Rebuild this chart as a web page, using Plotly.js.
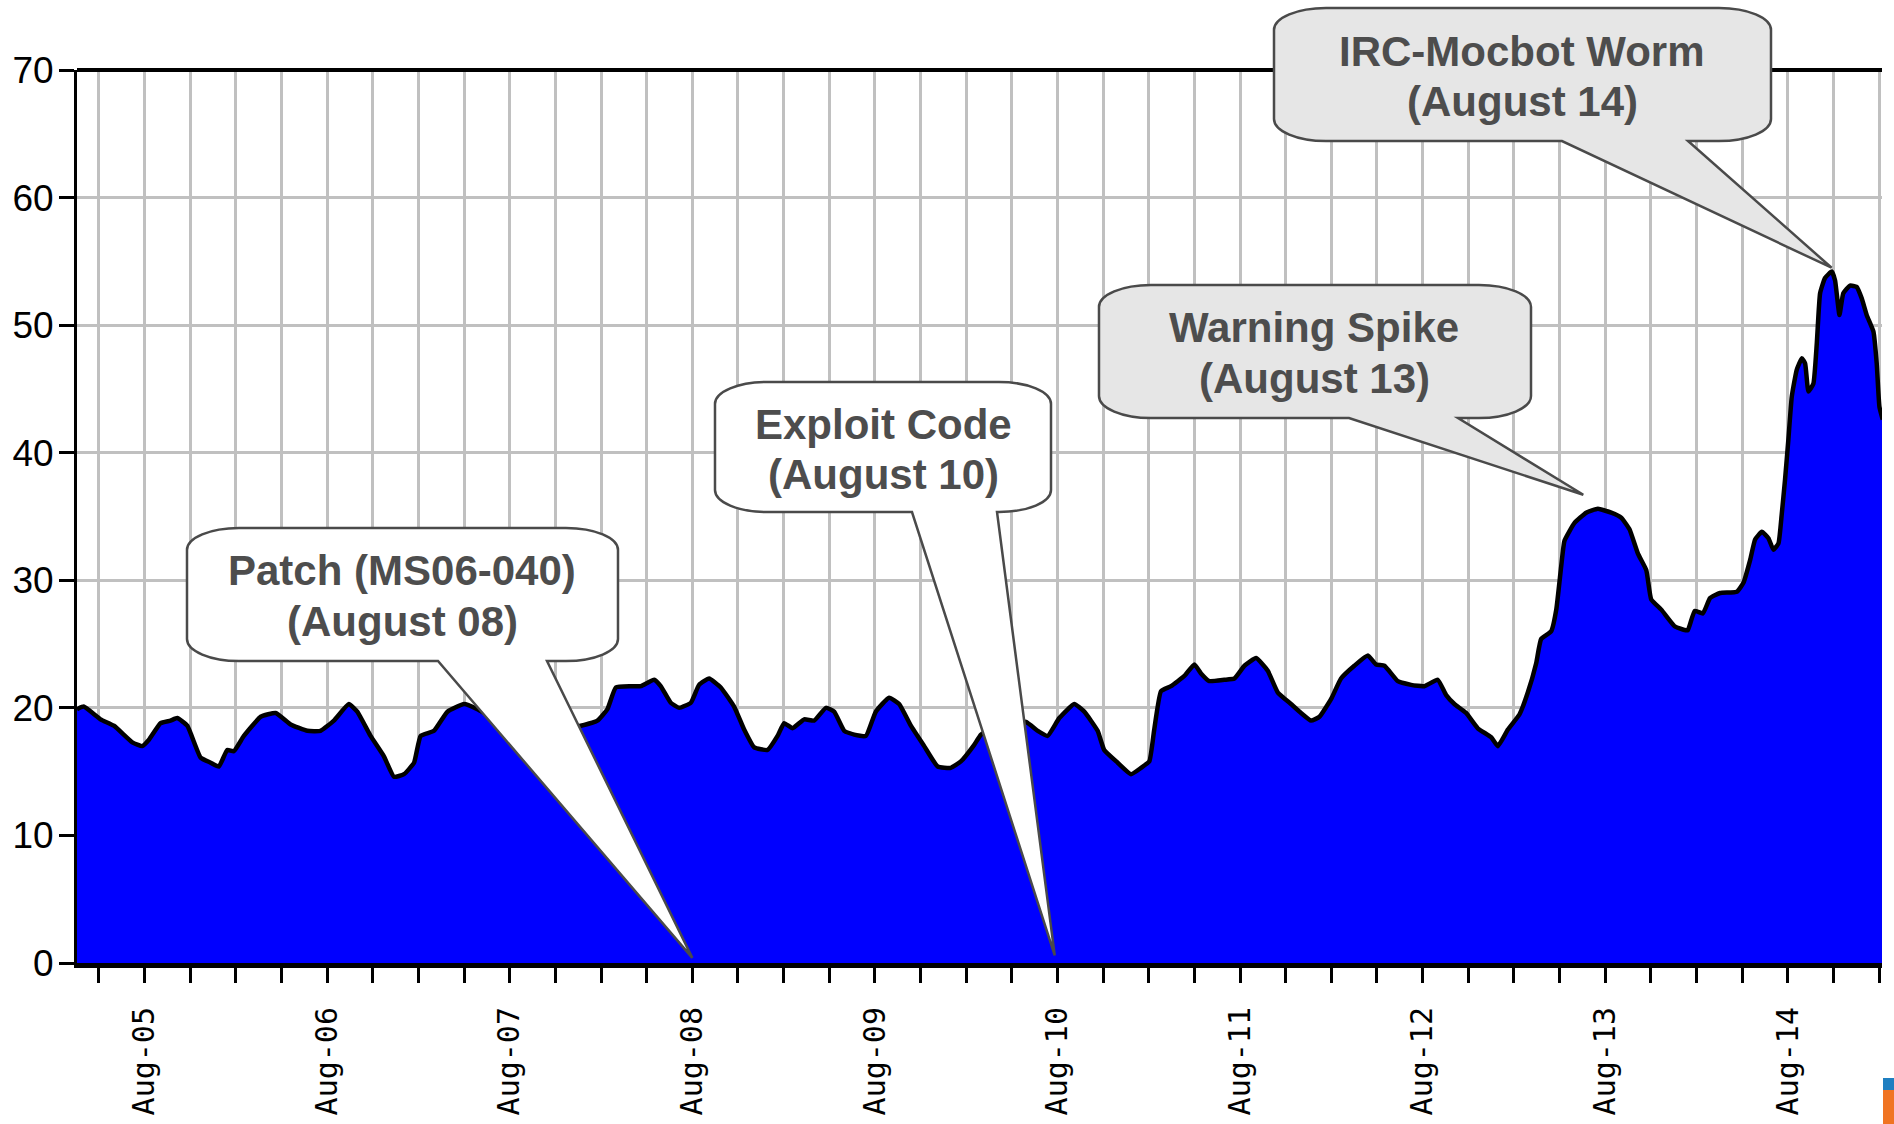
<!DOCTYPE html>
<html>
<head>
<meta charset="utf-8">
<script src="https://cdn.plot.ly/plotly-3.0.1.min.js"></script>
<style>
html,body{margin:0;padding:0;background:#ffffff;}
#chart{width:1894px;height:1124px;}
</style>
</head>
<body>
<div id="chart"></div>
<script>
// ---- data (x = day of August, y = value) ----
const dayOfAugust = [
 4.630,4.667,4.759,4.832,4.933,4.987,5.024,5.088,5.142,5.179,5.234,5.307,5.362,5.407,5.453,5.489,5.544,5.636,5.718,5.800,
 5.892,5.964,6.037,6.119,6.165,6.238,6.311,6.366,6.421,6.476,6.512,6.585,6.659,6.750,6.823,6.896,6.980,7.100,7.200,7.300,
 7.389,7.480,7.535,7.581,7.663,7.718,7.791,7.827,7.882,7.928,7.992,8.037,8.092,8.156,8.229,8.284,8.339,8.412,8.467,8.503,
 8.549,8.613,8.667,8.732,8.777,8.832,8.887,8.951,9.005,9.078,9.133,9.197,9.270,9.344,9.416,9.471,9.544,9.581,9.700,9.827,
 9.892,9.946,10.010,10.092,10.147,10.220,10.256,10.330,10.403,10.458,10.503,10.530,10.567,10.622,10.695,10.750,10.786,10.832,10.914,10.969,
 11.024,11.088,11.152,11.207,11.279,11.334,11.389,11.435,11.499,11.553,11.626,11.700,11.745,11.791,11.864,11.937,12.010,12.083,12.129,12.174,
 12.238,12.302,12.375,12.412,12.467,12.531,12.576,12.622,12.649,12.704,12.732,12.759,12.777,12.832,12.896,12.960,13.033,13.088,13.133,13.179,
 13.225,13.252,13.307,13.380,13.434,13.453,13.490,13.535,13.574,13.629,13.721,13.757,13.794,13.821,13.858,13.894,13.921,13.949,13.967,13.985,
 14.003,14.022,14.049,14.077,14.095,14.113,14.140,14.159,14.177,14.204,14.241,14.259,14.283,14.304,14.341,14.377,14.405,14.432,14.469,14.487,
 14.502,14.520
];
const eventCount = [
 19.9,20.1,19.1,18.6,17.3,17.0,17.5,18.8,19.0,19.2,18.6,16.1,15.7,15.4,16.7,16.6,17.8,19.3,19.6,18.7,
 18.2,18.2,19.0,20.3,19.7,17.8,16.2,14.6,14.8,15.7,17.8,18.2,19.7,20.3,19.9,19.3,19.0,18.5,18.3,18.4,
 18.6,19.0,19.9,21.6,21.7,21.7,22.2,21.7,20.4,20.0,20.4,21.8,22.3,21.6,20.1,18.3,16.9,16.7,17.8,18.8,
 18.4,19.1,19.0,20.0,19.7,18.2,17.9,17.8,19.7,20.8,20.3,18.6,17.0,15.4,15.3,15.8,17.1,17.9,18.9,18.9,
 18.2,17.8,19.2,20.3,19.7,18.2,16.7,15.7,14.8,15.3,15.8,18.3,21.3,21.7,22.5,23.4,22.7,22.1,22.2,22.3,
 23.3,23.9,22.9,21.2,20.3,19.6,19.0,19.3,20.7,22.3,23.3,24.1,23.4,23.3,22.1,21.8,21.7,22.2,21.0,20.3,
 19.6,18.4,17.7,17.0,18.3,19.5,21.2,23.5,25.4,26.0,27.7,31.1,33.1,34.5,35.3,35.6,35.3,34.9,34.0,32.1,
 30.8,28.5,27.7,26.4,26.1,26.1,27.6,27.4,28.6,29.0,29.1,29.8,31.6,33.2,33.8,33.3,32.4,32.9,35.2,37.9,
 41.0,44.4,46.5,47.4,47.0,44.8,45.4,48.6,52.5,53.7,54.2,53.5,50.8,52.5,53.1,53.0,52.1,50.8,49.5,47.0,
 43.6,42.6
];
const dayTicks = [5, 6, 7, 8, 9, 10, 11, 12, 13, 14];
const dayTickLabels = ['Aug-05','Aug-06','Aug-07','Aug-08','Aug-09','Aug-10','Aug-11','Aug-12','Aug-13','Aug-14'];
const calloutLine1 = ['Patch (MS06-040)', 'Exploit Code', 'Warning Spike', 'IRC-Mocbot Worm'];
const calloutLine2 = ['(August 08)', '(August 10)', '(August 13)', '(August 14)'];
const calloutTipDay = [8.0, 9.985, 12.88, 14.24];
const calloutTipValue = [0.4, 0.6, 36.7, 54.5];

// ---- layout geometry ----
const FIG_W = 1894, FIG_H = 1124;
const M = {l: 77, r: 12, t: 70, b: 161};
const PW = FIG_W - M.l - M.r, PH = FIG_H - M.t - M.b;
const X_RANGE = [4.63, 14.516];
const Y_RANGE = [0, 70];

function dataToPx(d, v) {
  return [M.l + (d - X_RANGE[0]) / (X_RANGE[1] - X_RANGE[0]) * PW,
          M.t + (1 - (v - Y_RANGE[0]) / (Y_RANGE[1] - Y_RANGE[0])) * PH];
}
function pxToPaper(px, py) {
  return [(px - M.l) / PW, 1 - (py - M.t) / PH];
}
function P(px, py) { const p = pxToPaper(px, py); return p[0].toFixed(5) + ',' + p[1].toFixed(5); }

// callout boxes (pixel layout of the speech bubbles)
const boxes = [
  {L: 187, R: 618, T: 528, B: 661, b1: 438, b2: 547, fill: '#ffffff', cx: 402, y1: 570, y2: 621},
  {L: 715, R: 1051, T: 382, B: 512, b1: 912, b2: 997, fill: '#ffffff', cx: 883, y1: 424, y2: 475},
  {L: 1099, R: 1531, T: 285, B: 418, b1: 1349, b2: 1458, fill: '#e6e6e6', cx: 1314, y1: 327, y2: 378},
  {L: 1274, R: 1771, T: 8, B: 141, b1: 1562, b2: 1688, fill: '#e6e6e6', cx: 1522, y1: 51, y2: 101}
];

function bubblePath(b, tip) {
  const rx = 52, ry = 22, k = 0.5523;
  const L = b.L, R = b.R, T = b.T, B = b.B;
  let s = 'M' + P(L + rx, T);
  s += ' L' + P(R - rx, T);
  s += ' C' + P(R - rx + k * rx, T) + ' ' + P(R, T + ry - k * ry) + ' ' + P(R, T + ry);
  s += ' L' + P(R, B - ry);
  s += ' C' + P(R, B - ry + k * ry) + ' ' + P(R - rx + k * rx, B) + ' ' + P(R - rx, B);
  s += ' L' + P(b.b2, B);
  s += ' L' + P(tip[0], tip[1]);
  s += ' L' + P(b.b1, B);
  s += ' L' + P(L + rx, B);
  s += ' C' + P(L + rx - k * rx, B) + ' ' + P(L, B - ry + k * ry) + ' ' + P(L, B - ry);
  s += ' L' + P(L, T + ry);
  s += ' C' + P(L, T + ry - k * ry) + ' ' + P(L + rx - k * rx, T) + ' ' + P(L + rx, T);
  s += ' Z';
  return s;
}

// ---- ticks every 6 hours, labelled at each day ----
const tickVals = [], tickText = [];
for (let q = Math.ceil(X_RANGE[0] * 4); q <= Math.floor(X_RANGE[1] * 4); q++) {
  const d = q / 4;
  tickVals.push(d);
  const idx = dayTicks.indexOf(d);
  tickText.push(idx >= 0 ? dayTickLabels[idx] : '');
}

const shapes = [
  {type: 'line', xref: 'paper', yref: 'paper', x0: 0, x1: 1, y0: 1, y1: 1,
   line: {color: '#000000', width: 4}, layer: 'above'}
];
const annotations = [];
boxes.forEach((b, i) => {
  const tip = dataToPx(calloutTipDay[i], calloutTipValue[i]);
  shapes.push({type: 'path', xref: 'paper', yref: 'paper', path: bubblePath(b, tip),
    fillcolor: b.fill, line: {color: '#4a4a4a', width: 2.5}, layer: 'above'});
  [[calloutLine1[i], b.y1], [calloutLine2[i], b.y2]].forEach(pair => {
    const p = pxToPaper(b.cx, pair[1]);
    annotations.push({xref: 'paper', yref: 'paper', x: p[0], y: p[1], xanchor: 'center', yanchor: 'middle',
      text: '<b>' + pair[0] + '</b>', showarrow: false,
      font: {family: 'Liberation Sans, Arial, sans-serif', size: 42, color: '#4d4d4d'}});
  });
});
// small corner logo fragment
(function () {
  const a = pxToPaper(1883, 1078), c = pxToPaper(1894, 1090), e = pxToPaper(1894, 1124);
  shapes.push({type: 'rect', xref: 'paper', yref: 'paper', x0: a[0], x1: c[0], y0: a[1], y1: c[1],
    fillcolor: '#1f7fc1', line: {width: 0}, layer: 'above'});
  shapes.push({type: 'rect', xref: 'paper', yref: 'paper', x0: a[0], x1: e[0], y0: c[1], y1: e[1],
    fillcolor: '#f07422', line: {width: 0}, layer: 'above'});
})();

const trace = {
  type: 'scatter', mode: 'lines', x: dayOfAugust, y: eventCount,
  fill: 'tozeroy', fillcolor: '#0000ff',
  line: {color: '#000000', width: 4.5, shape: 'spline', smoothing: 0.4},
  hoverinfo: 'skip', showlegend: false
};

const layout = {
  width: FIG_W, height: FIG_H,
  margin: M,
  paper_bgcolor: '#ffffff', plot_bgcolor: '#ffffff',
  showlegend: false,
  xaxis: {
    range: X_RANGE, tickmode: 'array', tickvals: tickVals, ticktext: tickText,
    tickangle: -90, ticks: 'outside', ticklen: 15, tickwidth: 3, tickcolor: '#000000',
    ticklabelstandoff: 12,
    showgrid: true, gridcolor: '#c0c0c0', gridwidth: 3,
    showline: true, linecolor: '#000000', linewidth: 5,
    zeroline: false,
    tickfont: {family: 'DejaVu Sans Mono, Liberation Mono, monospace', size: 30, color: '#000000'}
  },
  yaxis: {
    range: Y_RANGE, tickmode: 'linear', tick0: 0, dtick: 10,
    ticks: 'outside', ticklen: 15, tickwidth: 3, tickcolor: '#000000',
    ticklabelstandoff: -2,
    showgrid: true, gridcolor: '#c0c0c0', gridwidth: 3,
    showline: true, linecolor: '#000000', linewidth: 3,
    zeroline: false,
    tickfont: {family: 'Liberation Sans, Arial, sans-serif', size: 37, color: '#000000'}
  },
  shapes: shapes,
  annotations: annotations
};

Plotly.newPlot('chart', [trace], layout, {displayModeBar: false, staticPlot: true});
</script>
</body>
</html>
